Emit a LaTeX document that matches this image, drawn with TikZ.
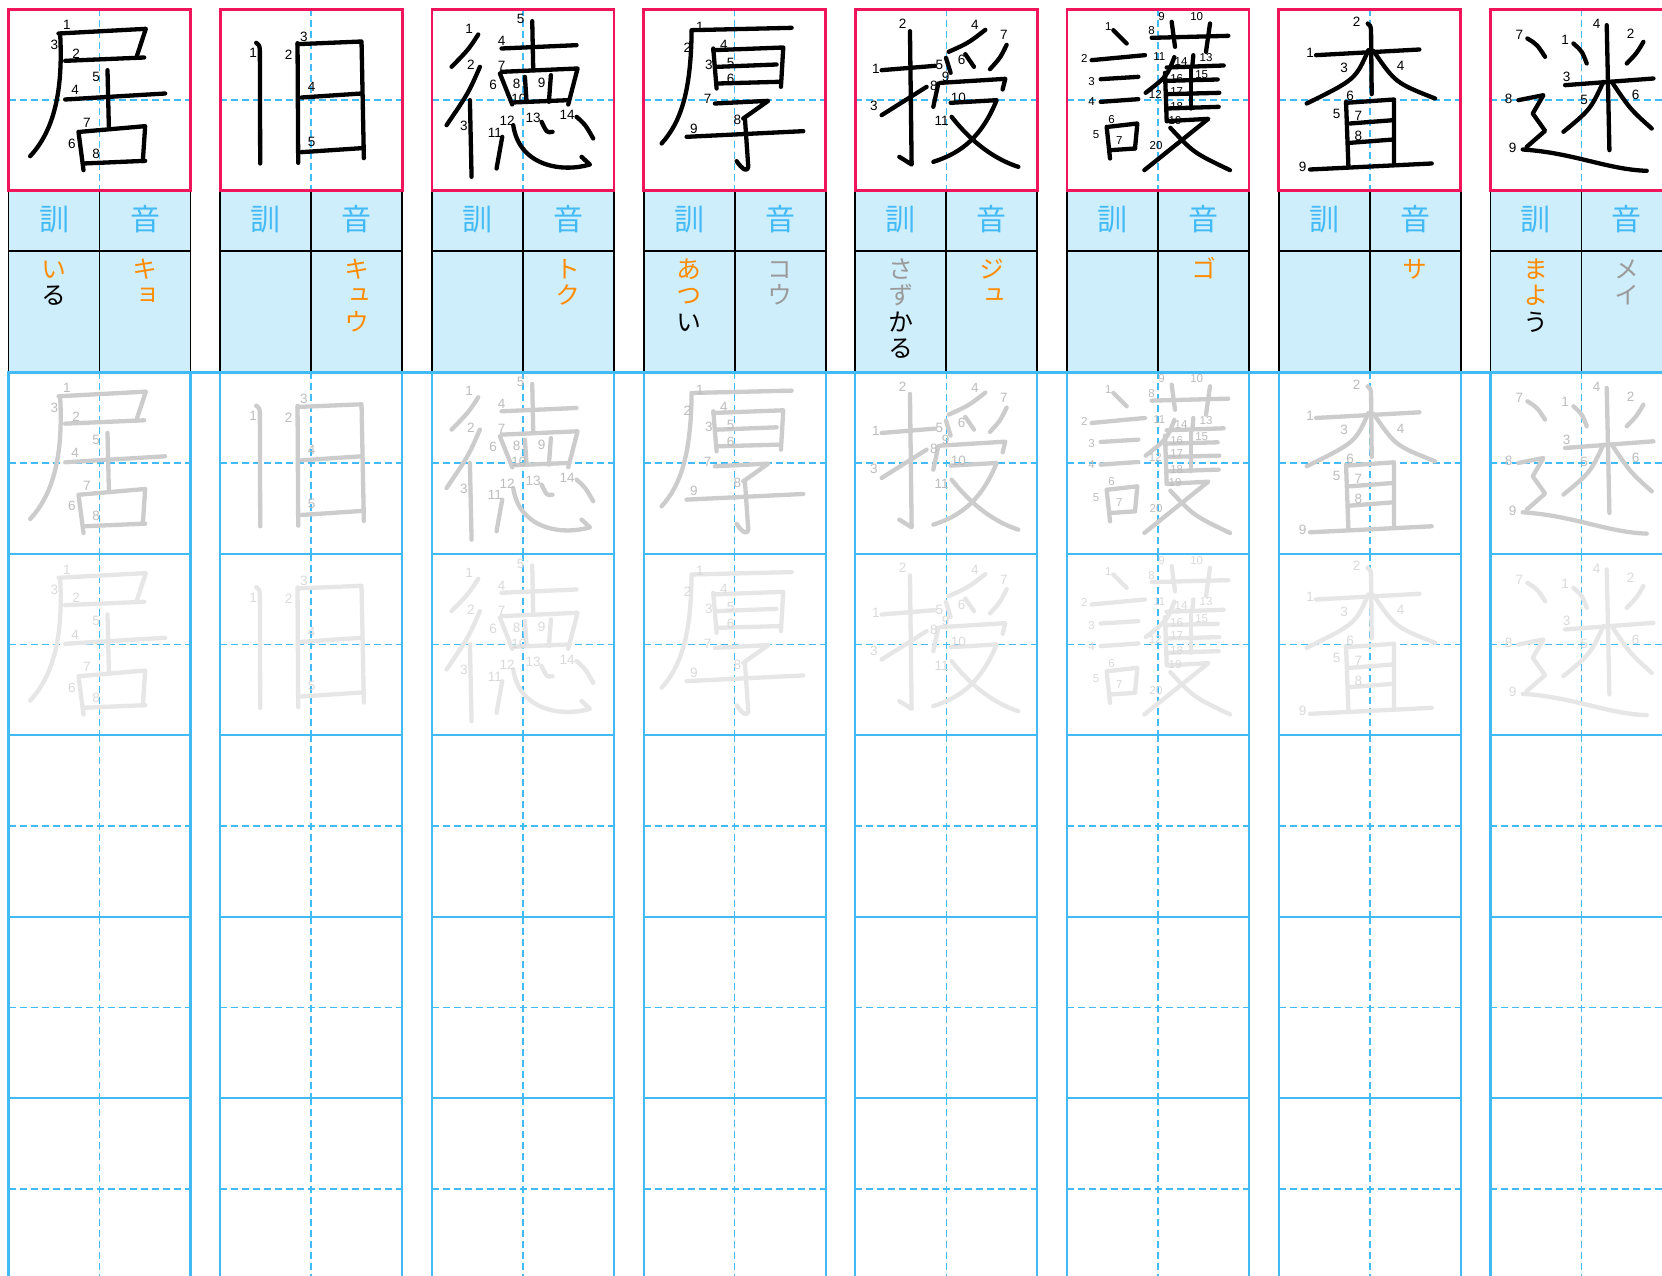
\documentclass[tikz,border=0pt]{standalone}
\usepackage{fontspec}
\newfontfamily\jpf{Noto Sans CJK JP}
\newfontfamily\jpv[RawFeature=+vert]{Noto Sans CJK JP}
\newfontfamily\numf{Liberation Sans}
\definecolor{kred}{HTML}{F0145A}
\definecolor{kblue}{HTML}{42BAF5}
\definecolor{kfill}{HTML}{CFEEFC}
\definecolor{korange}{HTML}{FF8C00}
\definecolor{kgray}{HTML}{9A9A9A}
\definecolor{tr1}{HTML}{CCCCCC}
\definecolor{tr1n}{HTML}{BDBDBD}
\definecolor{tr2}{HTML}{E6E6E6}
\definecolor{tr2n}{HTML}{DADADA}
\tikzset{
  kst/.style={line width=4.3pt, line cap=round, line join=round},
  knum/.style={font=\numf\fontsize{13.5}{14}\selectfont, inner sep=0pt},
  knums/.style={font=\numf\fontsize{11.5}{12}\selectfont, inner sep=0pt},
  rdg/.style={font=\jpv\fontsize{25}{25}\selectfont, anchor=base, inner sep=0pt},
  hdr/.style={font=\jpf\fontsize{30}{30}\selectfont, anchor=base, inner sep=0pt, text=kblue},
  hline/.style={draw=black, line width=1.8pt},
  guide/.style={draw=kblue, line width=1.6pt, dash pattern=on 7pt off 4pt},
  gridl/.style={draw=kblue, line width=2.2pt},
  redbox/.style={draw=kred, line width=2.6pt}
}
% ---- kanji ----
\newcommand\KKyo[2]{%
\draw[kst,#1] (150,72) -- (412,58) -- (385,140);
\draw[kst,#1] (170,154) -- (407,144);
\draw[kst,#1] (155,74) .. controls (165,260) and (130,370) .. (65,440);
\draw[kst,#1] (170,270) -- (470,252);
\draw[kst,#1] (297,182) -- (301,350);
\draw[kst,#1] (210,367) -- (225,482);
\draw[kst,#1] (215,367) -- (410,350) -- (403,455);
\draw[kst,#1] (225,462) -- (410,454);
\foreach \n/\a/\b in {1/175/47,2/203/132,3/138/107,4/200/242,5/263/202,6/190/402,7/235/340,8/263/432}
  \node[knum,text=#2] (kyo\n) at (\a,\b) {\n};
}
\newcommand\KKyu[2]{%
\draw[kst,#1] (108,100) .. controls (118,108) .. (119,125) -- (120,462);
\draw[kst,#1] (232,101) -- (234,460);
\draw[kst,#1] (232,104) -- (424,96) -- (431,446);
\draw[kst,#1] (244,264) -- (424,252);
\draw[kst,#1] (244,428) -- (424,416);
\foreach \n/\a/\b in {1/99/131,2/205/136,3/251/81,4/274/233,5/274/396}
  \node[knum,text=#2] (kyu\n) at (\a,\b) {\n};
}
\newcommand\KToku[2]{%
\draw[kst,#1] (139,75) .. controls (110,120) .. (59,172);
\draw[kst,#1] (144,172) .. controls (110,250) .. (44,347);
\draw[kst,#1] (114,272) -- (119,502);
\draw[kst,#1] (209,117) -- (434,107);
\draw[kst,#1] (301,35) -- (304,182);
\draw[kst,#1] (204,192) -- (241,285);
\draw[kst,#1] (209,187) -- (437,177) -- (409,285);
\draw[kst,#1] (279,202) -- (284,277);
\draw[kst,#1] (357,197) -- (351,277);
\draw[kst,#1] (241,279) -- (409,272);
\draw[kst,#1] (211,382) -- (194,477);
\draw[kst,#1] (244,347) .. controls (262,470) and (390,490) .. (474,465) -- (449,442);
\draw[kst,#1] (329,337) .. controls (345,370) .. (362,367);
\draw[kst,#1] (434,322) .. controls (460,345) .. (484,387);
\foreach \n/\a/\b in {1/112/57,2/117/167,3/96/349,4/209/95,5/266/29,6/184/225,7/209/170,8/254/222,9/329/219,10/261/269,11/189/369,12/226/333,13/304/325,14/406/317}
  \node[knum,text=#2] (toku\n) at (\a,\b) {\n};
}
\newcommand\KKou[2]{%
\draw[kst,#1] (144,62) -- (444,55);
\draw[kst,#1] (144,65) .. controls (142,250) and (110,340) .. (54,402);
\draw[kst,#1] (209,117) -- (219,237);
\draw[kst,#1] (209,122) -- (419,114) -- (412,232);
\draw[kst,#1] (222,172) -- (399,165);
\draw[kst,#1] (224,222) -- (404,217);
\draw[kst,#1] (214,282) -- (374,274) -- (299,327);
\draw[kst,#1] (304,327) -- (314,472) .. controls (312,488) and (298,482) .. (279,455);
\draw[kst,#1] (129,382) -- (479,365);
\foreach \n/\a/\b in {1/169/52,2/131/115,3/196/165,4/241/105,5/261/159,6/261/209,7/192/269,8/281/332,9/151/357}
  \node[knum,text=#2] (kou\n) at (\a,\b) {\n};
}
\newcommand\KJu[2]{%
\draw[kst,#1] (79,182) -- (239,169);
\draw[kst,#1] (164,65) -- (169,465) -- (132,442);
\draw[kst,#1] (79,317) -- (214,232);
\draw[kst,#1] (390,61) .. controls (340,100) .. (280,127);
\draw[kst,#1] (272,145) -- (286,190);
\draw[kst,#1] (330,134) .. controls (345,152) .. (356,172);
\draw[kst,#1] (454,106) .. controls (435,145) .. (404,179);
\draw[kst,#1] (249,222) -- (234,292);
\draw[kst,#1] (256,220) -- (450,208) -- (442,240);
\draw[kst,#1] (286,280) -- (424,272) .. controls (380,380) and (320,430) .. (234,457);
\draw[kst,#1] (289,322) .. controls (350,400) and (420,450) .. (489,472);
\foreach \n/\a/\b in {1/62/177,2/142/42,3/56/290,4/359/47,5/252/167,6/319/152,7/446/77,8/236/229,9/271/202,10/309/265,11/259/335}
  \node[knum,text=#2] (ju\n) at (\a,\b) {\n};
}
\newcommand\KGo[2]{%
\draw[kst,#1] (139,62) -- (179,102);
\draw[kst,#1] (74,152) -- (234,137);
\draw[kst,#1] (101,209) -- (214,202);
\draw[kst,#1] (101,277) -- (214,269);
\draw[kst,#1] (119,352) -- (129,447);
\draw[kst,#1] (124,352) -- (211,342) -- (204,417);
\draw[kst,#1] (131,422) -- (204,417);
\draw[kst,#1] (254,85) -- (484,79);
\draw[kst,#1] (314,37) -- (324,112);
\draw[kst,#1] (429,42) -- (417,127);
\draw[kst,#1] (322,143) .. controls (300,200) .. (236,250);
\draw[kst,#1] (294,190) -- (299,332);
\draw[kst,#1] (379,137) -- (376,170);
\draw[kst,#1] (299,174) -- (470,168);
\draw[kst,#1] (371,177) -- (371,297);
\draw[kst,#1] (299,214) -- (452,210);
\draw[kst,#1] (299,254) -- (457,250);
\draw[kst,#1] (299,297) -- (455,292);
\draw[kst,#1] (299,335) -- (424,328) -- (232,482);
\draw[kst,#1] (310,355) .. controls (380,430) .. (489,482);
\foreach \n/\a/\b in {1/124/52,2/52/147,3/74/215,4/74/277,5/87/375,6/134/329,7/157/392,8/254/64,9/284/20,10/389/20,11/277/142,12/265/256,13/417/144,14/342/156,15/404/194,16/329/206,17/329/245,18/329/291,19/324/332,20/267/409}
  \node[knums,text=#2] (go\n) at (\a,\b) {\n};
}
\newcommand\KSa[2]{%
\draw[kst,#1] (112,137) -- (422,120);
\draw[kst,#1] (267,42) .. controls (275,48) .. (277,62) -- (279,254);
\draw[kst,#1] (269,122) .. controls (230,210) .. (84,282);
\draw[kst,#1] (284,124) .. controls (350,220) .. (469,267);
\draw[kst,#1] (202,277) -- (209,467);
\draw[kst,#1] (202,280) -- (346,270) -- (346,462);
\draw[kst,#1] (214,342) -- (344,332);
\draw[kst,#1] (214,400) -- (344,390);
\draw[kst,#1] (94,480) -- (459,462);
\foreach \n/\a/\b in {1/94/130,2/234/37,3/196/174,4/366/169,5/174/312,6/214/260,7/239/320,8/239/380,9/72/472}
  \node[knum,text=#2] (sa\n) at (\a,\b) {\n};
}
\newcommand\KMei[2]{%
\draw[kst,#1] (249,102) .. controls (275,125) .. (289,162);
\draw[kst,#1] (459,97) .. controls (440,130) .. (409,162);
\draw[kst,#1] (224,227) -- (489,207);
\draw[kst,#1] (349,47) -- (357,422);
\draw[kst,#1] (339,217) .. controls (300,300) .. (219,367);
\draw[kst,#1] (364,217) .. controls (420,300) .. (484,357);
\draw[kst,#1] (111,87) .. controls (140,105) .. (164,142);
\draw[kst,#1] (84,272) -- (159,257) -- (127,312) -- (164,364) -- (109,412);
\draw[kst,#1] (97,420) .. controls (250,430) and (350,480) .. (469,484);
\foreach \n/\a/\b in {7/87/77,1/224/90,4/319/44,2/421/72,3/229/202,5/281/270,6/436/257,8/55/267,9/67/415}
  \node[knum,text=#2] (mei\n) at (\a,\b) {\n};
}
\newcommand\putk[2]{%
 \begin{scope}[shift={(#2,9.5)},scale=1/3] #1{black}{black} \end{scope}
 \begin{scope}[shift={(#2,372.3)},scale=1/3] #1{tr1}{tr1n} \end{scope}
 \begin{scope}[shift={(#2,553.8)},scale=1/3] #1{tr2}{tr2n} \end{scope}
}
\newcommand\rd[4]{\node[rdg,text=#1] at ({#2},{278+26.5*#3}) {#4};}
\begin{document}
\begin{tikzpicture}[x=1pt,y=-1pt]
\useasboundingbox (0,0) rectangle (1662,1276);
\clip (0,0) rectangle (1662,1276);
\fill[white] (0,0) rectangle (1662,1276);
\foreach \cc in {8.5,220.2,431.9,643.6,855.3,1067,1278.7,1490.4} {
  \fill[kfill] (\cc,190.7) rectangle ({\cc+182},372.3);
  \draw[hline] (\cc,190.7) -- (\cc,372.3) ({\cc+91},190.7) -- ({\cc+91},372.3)
     ({\cc+182},190.7) -- ({\cc+182},372.3) (\cc,251) -- ({\cc+182},251);
  \fill[white] (\cc,9.5) rectangle ({\cc+182},190.7);
  \draw[guide] ({\cc+91},9.5) -- ({\cc+91},190.7) (\cc,100.1) -- ({\cc+182},100.1);
  \draw[redbox] (\cc,9.5) rectangle ({\cc+182},190.7);
  \foreach \r in {0,...,4} {
    \pgfmathsetmacro\ya{372.3+181.5*\r}
    \draw[guide] ({\cc+91},\ya) -- ({\cc+91},{\ya+181.5}) (\cc,{\ya+90.75}) -- ({\cc+182},{\ya+90.75});
    \draw[gridl] (\cc,\ya) rectangle ({\cc+182},{\ya+181.5});
  }
  \node[hdr] (kun) at ({\cc+45.5},230.4) {訓};
  \node[hdr] (on) at ({\cc+136.5},230.4) {音};
}
\draw[gridl, line width=2.8pt] (8.5,372.3) -- (1662,372.3);
% kanji
\putk{\KKyo}{8.5}
\putk{\KKyu}{220.2}
\putk{\KToku}{431.9}
\putk{\KKou}{643.6}
\putk{\KJu}{855.3}
\putk{\KGo}{1067}
\putk{\KSa}{1278.7}
\putk{\KMei}{1490.4}
% readings
\rd{korange}{54}{0}{い}\rd{black}{54}{1}{る}
\rd{korange}{145}{0}{キ}\rd{korange}{145}{1}{ョ}
\rd{korange}{356.7}{0}{キ}\rd{korange}{356.7}{1}{ュ}\rd{korange}{356.7}{2}{ウ}
\rd{korange}{568.4}{0}{ト}\rd{korange}{568.4}{1}{ク}
\rd{korange}{689.1}{0}{あ}\rd{korange}{689.1}{1}{つ}\rd{black}{689.1}{2}{い}
\rd{kgray}{780.1}{0}{コ}\rd{kgray}{780.1}{1}{ウ}
\rd{kgray}{900.8}{0}{さ}\rd{kgray}{900.8}{1}{ず}\rd{black}{900.8}{2}{か}\rd{black}{900.8}{3}{る}
\rd{korange}{991.8}{0}{ジ}\rd{korange}{991.8}{1}{ュ}
\rd{korange}{1203.5}{0}{ゴ}
\rd{korange}{1415.2}{0}{サ}
\rd{korange}{1535.9}{0}{ま}\rd{korange}{1535.9}{1}{よ}\rd{black}{1535.9}{2}{う}
\rd{kgray}{1626.9}{0}{メ}\rd{kgray}{1626.9}{1}{イ}
\end{tikzpicture}
\end{document}
